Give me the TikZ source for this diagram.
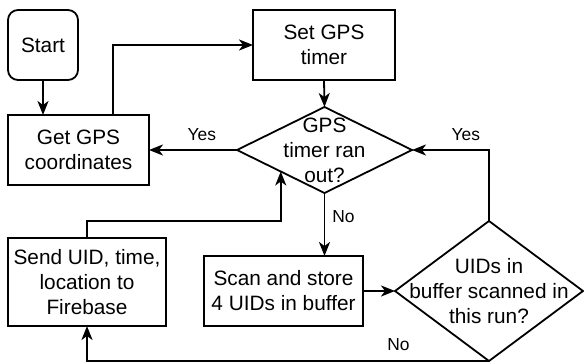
\documentclass[tikz,border=0pt]{standalone}
\usepackage{fontspec}
\setmainfont{Liberation Sans}
\usetikzlibrary{shapes.geometric,arrows.meta}

\tikzset{
  txt/.style={font=\fontsize{20.8pt}{25pt}\selectfont, align=center},
  lab/.style={font=\fontsize{17.4pt}{20pt}\selectfont, inner sep=0pt},
  box/.style={draw, line width=1.8pt, rectangle, inner sep=0pt, outer sep=0pt, txt},
  startbox/.style={box, rounded corners=10pt},
  decision/.style={draw, line width=1.8pt, diamond, inner sep=0pt, outer sep=0pt},
  arrow/.style={line width=1.8pt, -{Stealth[length=14pt,width=11pt,inset=4pt]}},
}

\begin{document}
\begin{tikzpicture}[x=1pt, y=-1pt]
  \useasboundingbox (0,0) rectangle (584,362);

  % process boxes
  \node[startbox, minimum width=70pt, minimum height=70pt] (start) at (43,45) {Start};
  \node[box, minimum width=141pt, minimum height=70pt] (getgps) at (78.5,150) {Get GPS\\coordinates};
  \node[box, minimum width=142pt, minimum height=70pt] (setgps) at (324,45) {Set GPS\\timer};
  \node[box, minimum width=159pt, minimum height=70pt] (scan) at (283.5,291) {Scan and store\\4 UIDs in buffer};
  \node[box, minimum width=158pt, minimum height=88pt] (send) at (87,282) {Send UID, time,\\location to\\Firebase};

  % decisions (text laid over the diamond so it may reach the edges)
  \node[decision, minimum width=175pt, minimum height=86pt,
        label={[txt]center:GPS\\timer ran\\out?}] (timer) at (324.5,150) {};
  \node[decision, minimum width=188pt, minimum height=140pt,
        label={[txt]center:UIDs in\\buffer scanned in\\this run?}] (uids) at (489,291) {};

  % connectors
  \draw[arrow] (start.south) -- (start.south |- getgps.north);
  \draw[arrow] ([xshift=34.5pt]getgps.north) |- (setgps.west);
  \draw[arrow] (setgps.south) -- (timer.north);
  \draw[arrow] (timer.west) -- node[lab, pos=0.4, yshift=15pt] {Yes} (getgps.east);
  \draw[arrow] (timer.south) -- node[lab, pos=0.38, xshift=19pt] {No} (timer.south |- scan.north);
  \draw[arrow] (scan.east) -- (uids.west);
  \draw[arrow] (uids.north) |- node[lab, pos=0.65, yshift=15pt] {Yes} (timer.east);
  \draw[arrow] (uids.south) -| node[lab, pos=0.1127, yshift=16pt] {No} (send.south);
  \draw[arrow] (send.north) -- ++(0,-17) -| (timer.south west);
\end{tikzpicture}
\end{document}
